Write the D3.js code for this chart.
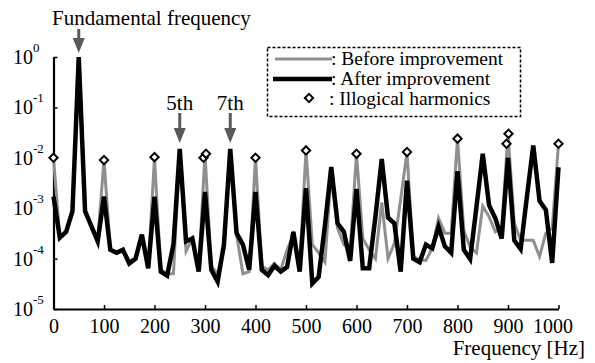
<!DOCTYPE html>
<html>
<head>
<meta charset="utf-8">
<script src="https://cdn.jsdelivr.net/npm/d3@7"></script>
<style>
  body { margin: 0; background: #fff; }
  svg { font-family: 'Liberation Serif', 'Times New Roman', serif; }
</style>
</head>
<body>
<svg id="chart" width="595" height="363"></svg>
<script>
// Data
const freqs = [
    0, 12.5, 25, 37.5, 50, 62.5, 75, 87.5, 100, 112.5, 125, 137.5, 150, 162.5, 175, 187.5,
    200, 212.5, 225, 237.5, 250, 262.5, 275, 287.5, 300, 312.5, 325, 337.5, 350, 362.5, 375, 387.5,
    400, 412.5, 425, 437.5, 450, 462.5, 475, 487.5, 500, 512.5, 525, 537.5, 550, 562.5, 575, 587.5,
    600, 612.5, 625, 637.5, 650, 662.5, 675, 687.5, 700, 712.5, 725, 737.5, 750, 762.5, 775, 787.5,
    800, 812.5, 825, 837.5, 850, 862.5, 875, 887.5, 900, 912.5, 925, 937.5, 950, 962.5, 975, 987.5,
    1000
];

const before = [
    1e-2, 2.6e-4, 3.5e-4, 9e-4, 1.0, 9e-4, 4.5e-4, 2.3e-4, 9e-3, 1.5e-4, 1.3e-4, 1.4e-4, 9e-5, 1e-4, 3e-4, 6.5e-5,
    1e-2, 6e-5, 5e-5, 5e-5, 1.4e-2, 1.4e-4, 2.5e-4, 6e-5, 1.2e-2, 7e-5, 5e-5, 1.5e-4, 1.4e-2, 3e-4, 5e-5, 5.5e-5,
    1e-2, 7e-5, 6e-5, 8e-5, 6e-5, 1.5e-4, 3e-4, 7e-5, 1.4e-2, 1.9e-4, 1.3e-4, 8.5e-5, 5e-3, 4e-4, 1.9e-4, 1.5e-4,
    1.2e-2, 2.5e-4, 1.5e-4, 1e-4, 1.3e-3, 1e-4, 2e-4, 1.5e-3, 1.3e-2, 1.1e-4, 9.5e-5, 9.2e-5, 1.6e-4, 6.3e-4, 3.2e-4, 3.2e-4,
    2.4e-2, 3.6e-4, 1.7e-4, 1.3e-4, 1.1e-3, 6.8e-4, 3.4e-4, 4e-4, 3e-2, 5e-4, 2.3e-4, 2.3e-4, 2.3e-4, 1.1e-4, 3.2e-4, 4e-4,
    1.9e-2
];

const after = [
    1.7e-3, 2.6e-4, 3.4e-4, 8.7e-4, 1.0, 8.7e-4, 4.4e-4, 2.2e-4, 1.7e-3, 1.5e-4, 1.3e-4, 1.5e-4, 8e-5, 1e-4, 3e-4, 6.4e-5,
    1.7e-3, 5.5e-5, 4.6e-5, 1.9e-4, 1.5e-2, 2.2e-4, 2.5e-4, 5.5e-5, 2.1e-3, 6e-5, 3.5e-5, 1.9e-4, 1.5e-2, 3.2e-4, 1.9e-4, 6e-5,
    2.1e-3, 6e-5, 4.7e-5, 7.2e-5, 5.5e-5, 6.8e-5, 3.4e-4, 5.5e-5, 2.5e-3, 3.2e-5, 4.3e-5, 4.6e-4, 6.6e-3, 5e-4, 3.4e-4, 9e-5,
    2.4e-3, 6.4e-5, 6.4e-5, 6.8e-4, 9.5e-3, 6.5e-4, 5e-4, 5.5e-5, 3.5e-3, 1e-4, 8.5e-5, 1.9e-4, 1.6e-4, 4.3e-4, 1.75e-4, 1.3e-4,
    5.4e-3, 1.5e-4, 9.8e-5, 1.05e-3, 1.2e-2, 1.15e-3, 6.3e-4, 2.5e-4, 1.0e-2, 2.3e-4, 1.55e-4, 1.7e-3, 1.75e-2, 1.4e-3, 9.2e-4, 8.2e-5,
    6.5e-3
];

// illogical harmonics markers [Hz, amplitude]
const illogicalFreqs = [0, 100, 200, 297, 302, 400, 500, 600, 700, 800, 897, 901, 1000];
const illogicalValues = [1e-2, 9e-3, 1.03e-2, 1e-2, 1.2e-2, 1e-2, 1.4e-2, 1.2e-2, 1.3e-2, 2.4e-2, 1.9e-2, 3e-2, 1.9e-2];

const xTicks = [0, 100, 200, 300, 400, 500, 600, 700, 800, 900, 1000];
const yTicks = [1e-5, 1e-4, 1e-3, 1e-2, 1e-1, 1];
const yExponents = ['-5', '-4', '-3', '-2', '-1', '0'];

const arrowFreqs = [50, 250, 350];
const arrowLabels = ['', '5th', '7th'];

const legendLabels = [': Before improvement', ': After improvement', ': Illogical harmonics'];

// Chart
const svg = d3.select('#chart');

const xScale = d3.scaleLinear().domain([0, 1000]).range([53.5, 558.5]);
const yScale = d3.scaleLog().domain([1e-5, 1]).range([309, 57]);

// x axis
const xAxis = svg.append('g')
    .attr('transform', 'translate(0,' + yScale(1e-5) + ')')
    .call(d3.axisBottom(xScale).tickValues(xTicks).tickFormat(d => String(d))
        .tickSize(-4).tickSizeOuter(0).tickPadding(10));

xAxis.select('.domain').attr('stroke', '#000').attr('stroke-width', 2.2);
xAxis.selectAll('.tick line').attr('stroke', '#000').attr('stroke-width', 1.5);
xAxis.selectAll('text')
    .style('font-size', '20px')
    .style('font-family', 'Liberation Serif')
    .attr('fill', '#000')
    .attr('dx', d => d === 1000 ? -6 : 0);

// y axis
const yAxis = svg.append('g')
    .attr('transform', 'translate(' + xScale(0) + ',0)')
    .call(d3.axisLeft(yScale).tickValues(yTicks).tickSize(-4).tickSizeOuter(0).tickFormat(''));

yAxis.select('.domain').attr('stroke', '#000').attr('stroke-width', 2.2);
yAxis.selectAll('.tick line').attr('stroke', '#000').attr('stroke-width', 1.5);

const yLabels = svg.append('g')
    .selectAll('text')
    .data(yTicks)
    .join('text')
    .attr('x', 13)
    .attr('y', d => yScale(d) + 7)
    .style('font-size', '20px');

yLabels.append('tspan').text('10');
yLabels.append('tspan')
    .attr('dy', -12)
    .style('font-size', '13px')
    .text((d, i) => yExponents[i]);

// x title
svg.append('text')
    .attr('x', 585)
    .attr('y', 355)
    .style('font-size', '21px')
    .style('text-anchor', 'end')
    .text('Frequency [Hz]');

// lines
const line = d3.line()
    .x(d => xScale(d[0]))
    .y(d => yScale(d[1]));

svg.append('path')
    .attr('fill', 'none')
    .attr('stroke', '#8f8f8f')
    .attr('stroke-width', 3)
    .attr('d', line(freqs.map((f, i) => [f, before[i]])));

svg.append('path')
    .attr('fill', 'none')
    .attr('stroke', '#000')
    .attr('stroke-width', 4.5)
    .attr('d', line(freqs.map((f, i) => [f, after[i]])));

const diamond = d3.symbol().type(d3.symbolDiamond2).size(44);

svg.append('g')
    .selectAll('path')
    .data(illogicalFreqs.map((f, i) => [f, illogicalValues[i]]))
    .join('path')
    .attr('transform', d => 'translate(' + xScale(d[0]) + ',' + yScale(d[1]) + ')')
    .attr('d', diamond)
    .attr('fill', '#fff')
    .attr('stroke', '#000')
    .attr('stroke-width', 2);

// arrows
const arrowTop = [29, 113, 113];
const arrowTip = [53, 143, 143];
const arrows = svg.append('g').attr('fill', '#595959').attr('stroke', '#595959');

arrowFreqs.forEach((f, i) => {
    const x = xScale(f);
    arrows.append('line')
        .attr('x1', x).attr('x2', x)
        .attr('y1', arrowTop[i]).attr('y2', arrowTip[i] - 12)
        .attr('stroke-width', 3);
    arrows.append('path')
        .attr('stroke', 'none')
        .attr('d', 'M' + (x - 6) + ',' + (arrowTip[i] - 15) + 'L' + (x + 6) + ',' + (arrowTip[i] - 15) + 'L' + x + ',' + arrowTip[i] + 'Z');
    if (arrowLabels[i]) {
        svg.append('text')
            .attr('x', x)
            .attr('y', 110)
            .style('font-size', '21px')
            .style('text-anchor', 'middle')
            .text(arrowLabels[i]);
    }
});

svg.append('text')
    .attr('x', 52)
    .attr('y', 25)
    .style('font-size', '21px')
    .text('Fundamental frequency');

// legend
const legend = svg.append('g');

legend.append('rect')
    .attr('x', 267.5).attr('y', 47.5)
    .attr('width', 253).attr('height', 69)
    .attr('fill', 'none')
    .attr('stroke', '#000')
    .attr('stroke-width', 1.5)
    .attr('stroke-dasharray', '3,2');

legend.append('line')
    .attr('x1', 275).attr('x2', 332).attr('y1', 59).attr('y2', 59)
    .attr('stroke', '#8f8f8f').attr('stroke-width', 3);

legend.append('line')
    .attr('x1', 273).attr('x2', 332).attr('y1', 79).attr('y2', 79)
    .attr('stroke', '#000').attr('stroke-width', 4.5);

legend.append('path')
    .attr('transform', 'translate(309,98)')
    .attr('d', diamond)
    .attr('fill', '#fff')
    .attr('stroke', '#000')
    .attr('stroke-width', 2);

legend.selectAll('text.item')
    .data(legendLabels)
    .join('text')
    .attr('class', 'item')
    .attr('x', (d, i) => i === 2 ? 329 : 331)
    .attr('y', (d, i) => 65 + i * 20)
    .style('font-size', '19.5px')
    .text(d => d);
</script>
</body>
</html>
